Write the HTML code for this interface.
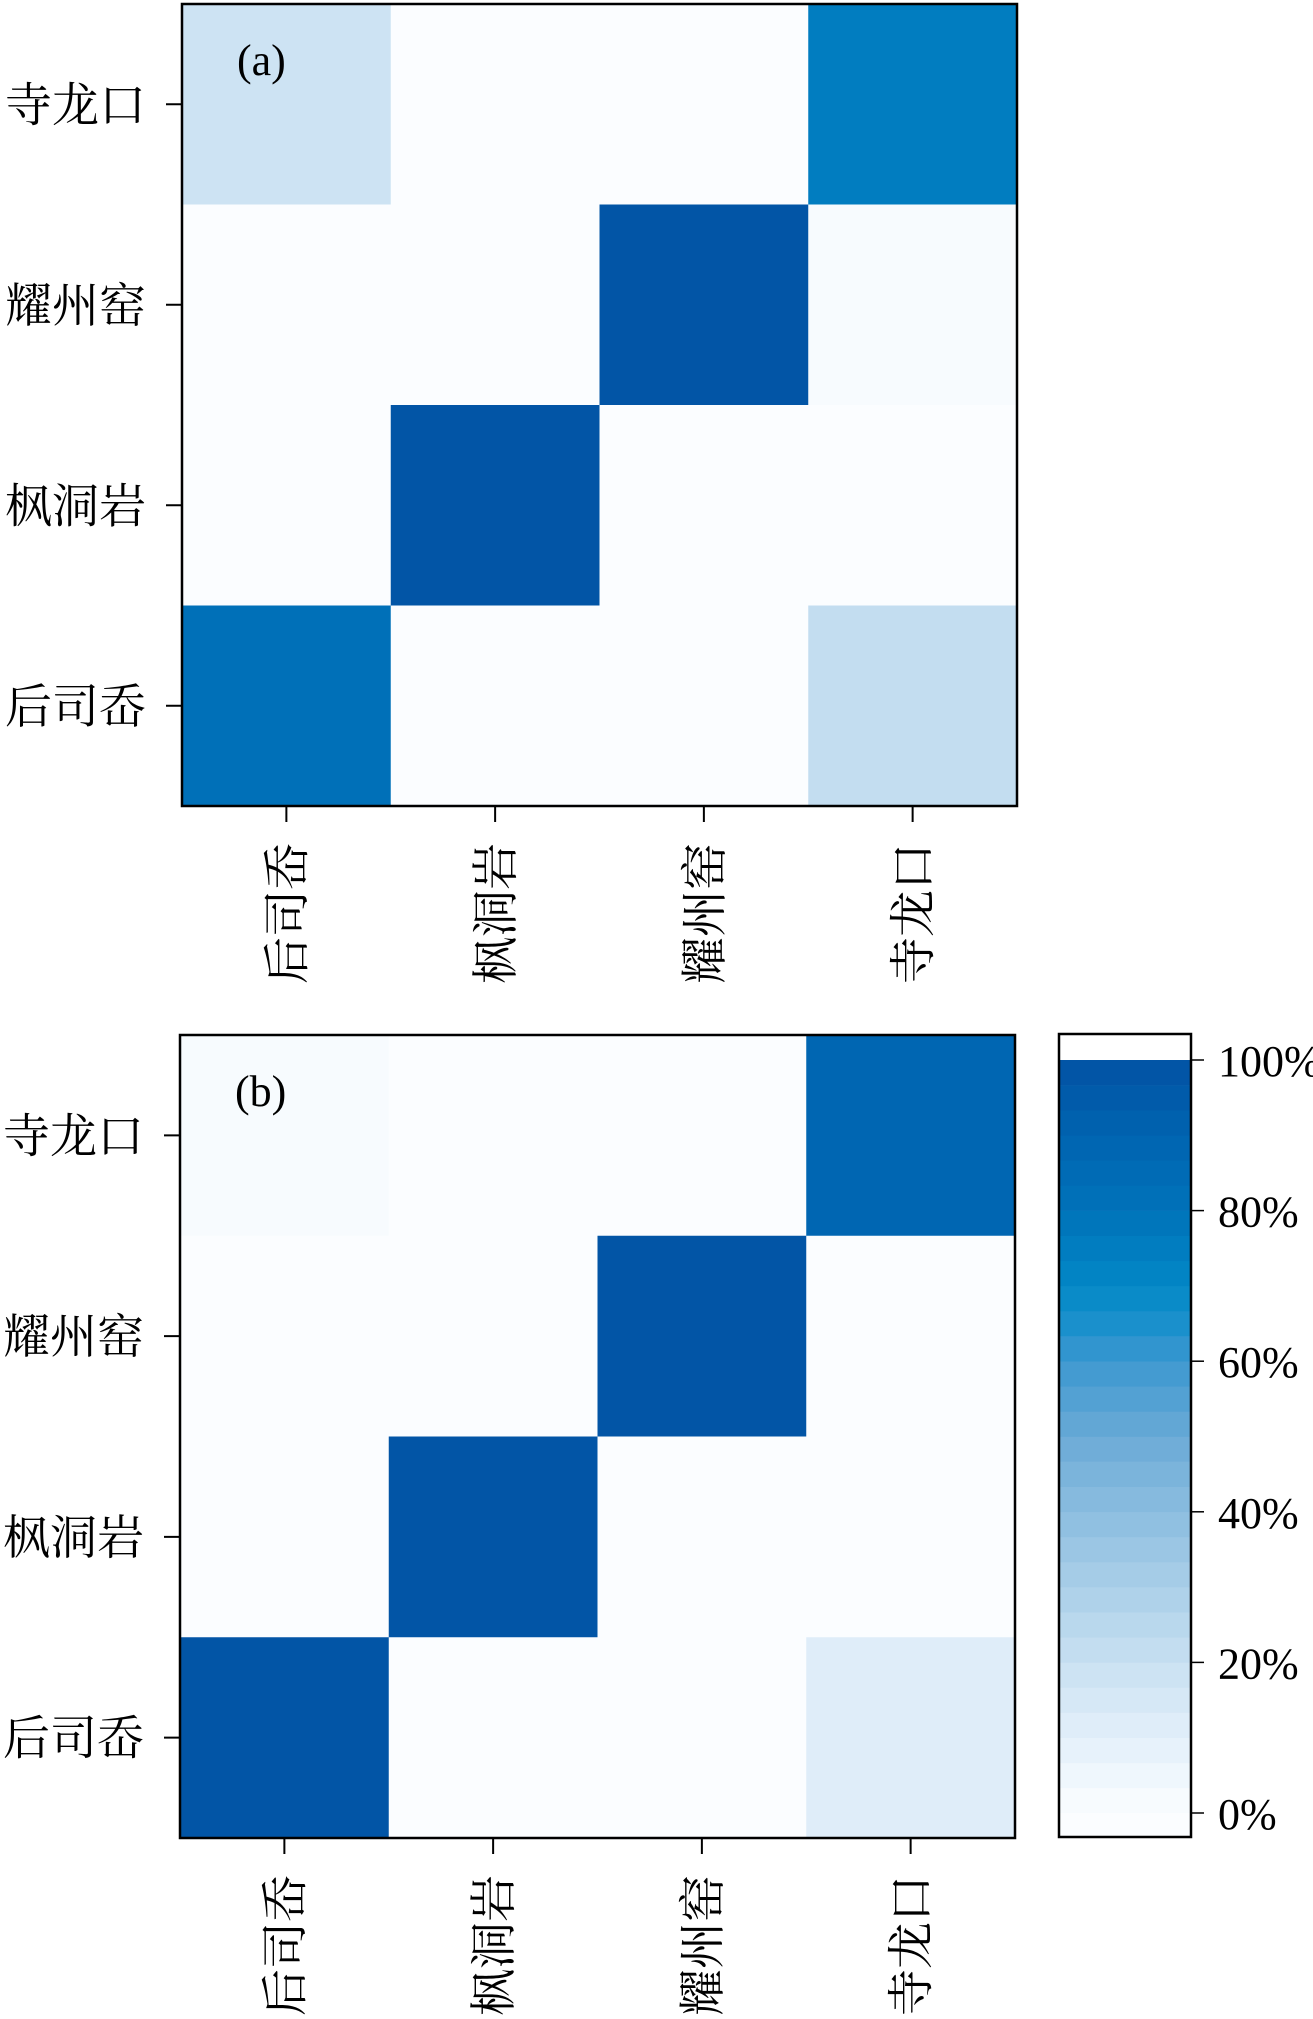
<!DOCTYPE html>
<html><head><meta charset="utf-8"><style>
html,body{margin:0;padding:0;background:#fff}
svg{display:block}
text{font-family:"Liberation Serif","Noto Serif CJK SC",serif;fill:#000}
</style></head><body>
<svg id="chart" width="1313" height="2019" viewBox="0 0 1313 2019" xmlns="http://www.w3.org/2000/svg"></svg>
<script>
const rowLabels = ["寺龙口","耀州窑","枫洞岩","后司岙"];
const colLabels = ["后司岙","枫洞岩","耀州窑","寺龙口"];
const valuesA = [
  [0.17,0,0,0.75],
  [0,0,1.0,0.03],
  [0,1.0,0,0],
  [0.82,0,0,0.21]
];
const valuesB = [
  [0.03,0,0,0.87],
  [0,0,1.0,0],
  [0,1.0,0,0],
  [0.99,0,0,0.13]
];
const cbTicks = [0,20,40,60,80,100];
const cbTickLabels = ["0%","20%","40%","60%","80%","100%"];

const NS="http://www.w3.org/2000/svg";
const svg=document.getElementById('chart');
function mk(tag,attrs,parent){const e=document.createElementNS(NS,tag);for(const k in attrs)e.setAttribute(k,attrs[k]);(parent||svg).appendChild(e);return e;}
const stops=[[0,[251,253,255]],[0.1,[227,240,250]],[0.2,[200,224,242]],[0.3,[170,207,232]],[0.4,[139,189,224]],[0.5,[106,170,214]],[0.6,[61,152,208]],[0.65,[26,144,204]],[0.7,[2,136,198]],[0.8,[0,114,185]],[0.9,[0,100,176]],[1,[2,82,164]]];
function cmap(v){v=Math.max(0,Math.min(1,v));for(let i=1;i<stops.length;i++){if(v<=stops[i][0]){const a=stops[i-1],b=stops[i];const t=(v-a[0])/(b[0]-a[0]);const c=a[1].map((x,j)=>Math.round(x+(b[1][j]-x)*t));return `rgb(${c.join(',')})`;}}return 'rgb(2,82,164)';}
const NB=30;
function quant(v){if(v<=0)return cmap(0);const k=Math.min(NB-1,Math.floor(v*NB-1e-9));return cmap((k+0.5)/NB*1.0+0.0);}

function panel(vals,x0,y0,x1,y1,label,pname){
  const g=mk('g',{});
  
  
  const cw=(x1-x0)/colLabels.length, ch=(y1-y0)/rowLabels.length;
  const xs=i=>x0+i*cw, ys=j=>y0+j*ch;
  vals.forEach((row,r)=>row.forEach((v,c)=>{
    const rect=mk('rect',{x:xs(c),y:ys(r),width:cw+0.5,height:ch+0.5,fill:quant(v)},g);
    
    
  }));
  const fr=mk('rect',{x:x0,y:y0,width:x1-x0,height:y1-y0,fill:'none',stroke:'#000','stroke-width':2.5},g);
  
  
  rowLabels.forEach((l,r)=>{
    const yc=ys(r)+ch/2;
    mk('line',{x1:x0-16,x2:x0,y1:yc,y2:yc,stroke:'#000','stroke-width':2},g);
    const t=mk('text',{x:x0-36,y:yc+17,'font-size':47,'text-anchor':'end'},g);
    t.textContent=l;
    
    
  });
  colLabels.forEach((l,c)=>{
    const xc=xs(c)+cw/2;
    mk('line',{x1:xc,x2:xc,y1:y1,y2:y1+16,stroke:'#000','stroke-width':2},g);
    const t=mk('text',{x:0,y:0,'font-size':47,'text-anchor':'end',transform:`translate(${xc+17},${y1+37}) rotate(-90)`},g);
    t.textContent=l;
    
    
  });
  const pl=mk('text',{x:x0+55,y:y0+71,'font-size':44},g);
  pl.textContent=label;
  
  
}
panel(valuesA,182,4,1017,806,'(a)','panel-a');
panel(valuesB,180,1035,1015,1838,'(b)','panel-b');

// colorbar
const cb=mk('g',{});


const cbx0=1059,cbx1=1191,cbTop=1034,cbBot=1837,y100=1060,y0p=1813;
const cy=v=>y0p+(y100-y0p)*v/100;
mk('rect',{x:cbx0,y:cbTop,width:cbx1-cbx0,height:cbBot-cbTop,fill:'#fff'},cb);
for(let k=0;k<NB;k++){
  const lo=k/NB*100,hi=(k+1)/NB*100;
  const b=mk('rect',{x:cbx0,y:cy(hi),width:cbx1-cbx0,height:cy(lo)-cy(hi)+0.3,fill:cmap((k+0.5)/NB)},cb);
  
  
}
mk('rect',{x:cbx0,y:cy(0),width:cbx1-cbx0,height:cbBot-cy(0),fill:cmap(0)},cb);
mk('rect',{x:cbx0,y:cbTop,width:cbx1-cbx0,height:cbBot-cbTop,fill:'none',stroke:'#000','stroke-width':2.5},cb);
cbTicks.forEach((v,i)=>{
  const y=cy(v);
  mk('line',{x1:cbx1,x2:cbx1+13,y1:y,y2:y,stroke:'#000','stroke-width':1.5},cb);
  const t=mk('text',{x:1218,y:y+16,'font-size':44},cb);
  t.textContent=cbTickLabels[i];
  
  
});
</script>
</body></html>
